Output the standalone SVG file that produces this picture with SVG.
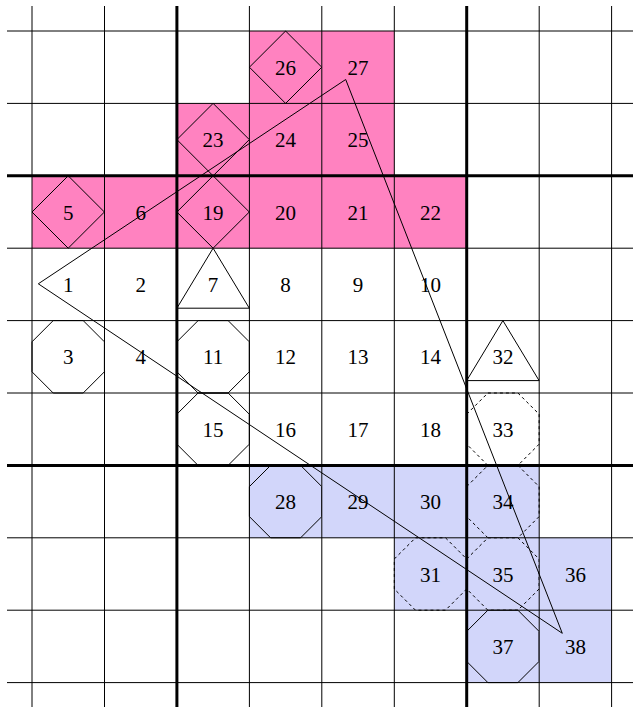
<svg xmlns="http://www.w3.org/2000/svg" xmlns:xlink="http://www.w3.org/1999/xlink" width="633" height="707" viewBox="0 0 633 707">
<style>
.pink{fill:#ff82c0;stroke:none}
.blue{fill:#d2d6fa;stroke:none}
.sh{fill:none;stroke:#000;stroke-width:1}
.dash{fill:none;stroke:#000;stroke-width:1;stroke-dasharray:3,3}
.g{stroke:#000;stroke-width:1}
.gt{stroke:#000;stroke-width:3}
text{font-family:"Liberation Serif","Times New Roman",serif;font-size:21px;text-anchor:middle;fill:#000}
.conn{fill:none;stroke:#000;stroke-width:1}
</style>
<defs>
<polygon id="oct" points="21.2,0 51.2,0 72.4,21.2 72.4,51.2 51.2,72.4 21.2,72.4 0,51.2 0,21.2"/>
<polygon id="dia" points="36.2,0 72.4,36.2 36.2,72.4 0,36.2"/>
<polygon id="tri" points="36.2,0 72.4,60 0,60"/>
</defs>
<g id="nodes">
<g id="n1"><text x="68.2" y="291.9">1</text></g>
<g id="n2"><text x="140.7" y="291.9">2</text></g>
<g id="n3"><use xlink:href="#oct" class="sh" x="32" y="320.6"/><text x="68.2" y="364.3">3</text></g>
<g id="n4"><text x="140.7" y="364.3">4</text></g>
<g id="n5"><rect class="pink" x="32" y="175.8" width="72.5" height="72.4"/><use xlink:href="#dia" class="sh" x="32" y="175.8"/><text x="68.2" y="219.5">5</text></g>
<g id="n6"><rect class="pink" x="104.5" y="175.8" width="72.4" height="72.4"/><text x="140.7" y="219.5">6</text></g>
<g id="n7"><use xlink:href="#tri" class="sh" x="176.9" y="248.2"/><text x="213.1" y="291.9">7</text></g>
<g id="n8"><text x="285.6" y="291.9">8</text></g>
<g id="n9"><text x="358" y="291.9">9</text></g>
<g id="n10"><text x="430.5" y="291.9">10</text></g>
<g id="n11"><use xlink:href="#oct" class="sh" x="176.9" y="320.6"/><text x="213.1" y="364.3">11</text></g>
<g id="n12"><text x="285.6" y="364.3">12</text></g>
<g id="n13"><text x="358" y="364.3">13</text></g>
<g id="n14"><text x="430.5" y="364.3">14</text></g>
<g id="n15"><use xlink:href="#oct" class="sh" x="176.9" y="393"/><text x="213.1" y="436.7">15</text></g>
<g id="n16"><text x="285.6" y="436.7">16</text></g>
<g id="n17"><text x="358" y="436.7">17</text></g>
<g id="n18"><text x="430.5" y="436.7">18</text></g>
<g id="n19"><rect class="pink" x="176.9" y="175.8" width="72.5" height="72.4"/><use xlink:href="#dia" class="sh" x="176.9" y="175.8"/><text x="213.1" y="219.5">19</text></g>
<g id="n20"><rect class="pink" x="249.4" y="175.8" width="72.4" height="72.4"/><text x="285.6" y="219.5">20</text></g>
<g id="n21"><rect class="pink" x="321.8" y="175.8" width="72.5" height="72.4"/><text x="358" y="219.5">21</text></g>
<g id="n22"><rect class="pink" x="394.3" y="175.8" width="72.4" height="72.4"/><text x="430.5" y="219.5">22</text></g>
<g id="n23"><rect class="pink" x="176.9" y="103.4" width="72.5" height="72.4"/><use xlink:href="#dia" class="sh" x="176.9" y="103.4"/><text x="213.1" y="147.1">23</text></g>
<g id="n24"><rect class="pink" x="249.4" y="103.4" width="72.4" height="72.4"/><text x="285.6" y="147.1">24</text></g>
<g id="n25"><rect class="pink" x="321.8" y="103.4" width="72.5" height="72.4"/><text x="358" y="147.1">25</text></g>
<g id="n26"><rect class="pink" x="249.4" y="31" width="72.4" height="72.4"/><use xlink:href="#dia" class="sh" x="249.4" y="31"/><text x="285.6" y="74.7">26</text></g>
<g id="n27"><rect class="pink" x="321.8" y="31" width="72.5" height="72.4"/><text x="358" y="74.7">27</text></g>
<g id="n28"><rect class="blue" x="249.4" y="465.4" width="72.4" height="72.4"/><use xlink:href="#oct" class="sh" x="249.4" y="465.4"/><text x="285.6" y="509.1">28</text></g>
<g id="n29"><rect class="blue" x="321.8" y="465.4" width="72.5" height="72.4"/><text x="358" y="509.1">29</text></g>
<g id="n30"><rect class="blue" x="394.3" y="465.4" width="72.4" height="72.4"/><text x="430.5" y="509.1">30</text></g>
<g id="n31"><rect class="blue" x="394.3" y="537.8" width="72.4" height="72.4"/><use xlink:href="#oct" class="dash" x="394.3" y="537.8"/><text x="430.5" y="581.5">31</text></g>
<g id="n32"><use xlink:href="#tri" class="sh" x="466.7" y="320.6"/><text x="502.9" y="364.3">32</text></g>
<g id="n33"><use xlink:href="#oct" class="dash" x="466.7" y="393"/><text x="502.9" y="436.7">33</text></g>
<g id="n34"><rect class="blue" x="466.7" y="465.4" width="72.5" height="72.4"/><use xlink:href="#oct" class="dash" x="466.7" y="465.4"/><text x="502.9" y="509.1">34</text></g>
<g id="n35"><rect class="blue" x="466.7" y="537.8" width="72.5" height="72.4"/><use xlink:href="#oct" class="dash" x="466.7" y="537.8"/><text x="502.9" y="581.5">35</text></g>
<g id="n36"><rect class="blue" x="539.2" y="537.8" width="72.4" height="72.4"/><text x="575.4" y="581.5">36</text></g>
<g id="n37"><rect class="blue" x="466.7" y="610.2" width="72.5" height="72.4"/><use xlink:href="#oct" class="sh" x="466.7" y="610.2"/><text x="502.9" y="653.9">37</text></g>
<g id="n38"><rect class="blue" x="539.2" y="610.2" width="72.4" height="72.4"/><text x="575.4" y="653.9">38</text></g>
</g>
<g id="grid">
<line class="g" x1="32" y1="6" x2="32" y2="707"/>
<line class="g" x1="104.5" y1="6" x2="104.5" y2="707"/>
<line class="gt" x1="176.9" y1="6" x2="176.9" y2="707"/>
<line class="g" x1="249.4" y1="6" x2="249.4" y2="707"/>
<line class="g" x1="321.8" y1="6" x2="321.8" y2="707"/>
<line class="g" x1="394.3" y1="6" x2="394.3" y2="707"/>
<line class="gt" x1="466.7" y1="6" x2="466.7" y2="707"/>
<line class="g" x1="539.2" y1="6" x2="539.2" y2="707"/>
<line class="g" x1="611.6" y1="6" x2="611.6" y2="707"/>
<line class="g" x1="7" y1="31" x2="633" y2="31"/>
<line class="g" x1="7" y1="103.4" x2="633" y2="103.4"/>
<line class="gt" x1="7" y1="175.8" x2="633" y2="175.8"/>
<line class="g" x1="7" y1="248.2" x2="633" y2="248.2"/>
<line class="g" x1="7" y1="320.6" x2="633" y2="320.6"/>
<line class="g" x1="7" y1="393" x2="633" y2="393"/>
<line class="gt" x1="7" y1="465.4" x2="633" y2="465.4"/>
<line class="g" x1="7" y1="537.8" x2="633" y2="537.8"/>
<line class="g" x1="7" y1="610.2" x2="633" y2="610.2"/>
<line class="g" x1="7" y1="682.6" x2="633" y2="682.6"/>
</g>
<g id="connectors">
<path class="conn" d="M345.7,79.5 L38.3,283.8 L562.3,633.3 Z"/>
</g>
</svg>
